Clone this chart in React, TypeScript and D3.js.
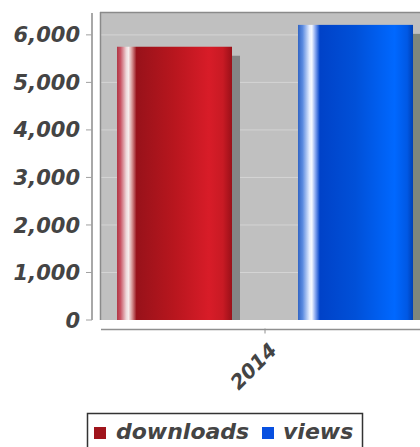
import React from "react";
import * as d3 from "d3";

const categories = ["2014"];
const seriesNames = ["downloads", "views"];
const downloads = [5750];
const views = [6210];
const yTicks = [0, 1000, 2000, 3000, 4000, 5000, 6000];
const yMax = 6460;

const W = 420;
const H = 447;
const FONT = "'DejaVu Sans', sans-serif";
const TEXT = "#444";

const gradRed = [
  [0, "#b03644"],
  [0.03, "#c85262"],
  [0.08, "#eed6d8"],
  [0.1, "#f6eeee"],
  [0.13, "#d89898"],
  [0.17, "#98121a"],
  [0.5, "#b8161e"],
  [0.8, "#d81c28"],
  [0.92, "#c81a24"],
  [1, "#9a1018"],
];
const gradBlue = [
  [0, "#3064c4"],
  [0.04, "#5a8ae0"],
  [0.1, "#e6eeff"],
  [0.12, "#f4f8ff"],
  [0.15, "#88a8f0"],
  [0.19, "#0042c8"],
  [0.5, "#0050d8"],
  [0.84, "#0068ff"],
  [0.95, "#0058e4"],
  [1, "#0040b4"],
];

export default function App() {
  const plotL = 100;
  const plotR = 430;
  const plotT = 13;
  const plotB = 320;

  const x0 = d3.scaleBand<string>().domain(categories).range([plotL, plotR]).paddingInner(0).paddingOuter(0.0574);
  const x1 = d3.scaleBand<string>().domain(seriesNames).range([0, x0.bandwidth()]).paddingInner(0.3646).paddingOuter(0);
  const y = d3.scaleLinear().domain([0, yMax]).range([plotB, plotT]);
  const fmt = d3.format(",");

  const values: Record<string, number[]> = { downloads, views };
  const grads: Record<string, (string | number)[][]> = { downloads: gradRed, views: gradBlue };
  const shadowCol: Record<string, string> = { downloads: "#848484", views: "#7e867c" };
  const legendCol: Record<string, string> = { downloads: "#a0141c", views: "#0850e0" };

  const axisY = 329.5;
  const yAxisX = 92;

  return (
    <div style={{ position: "absolute", left: 0, top: 0 }}>
      <svg width={W} height={H} style={{ display: "block", background: "#fff" }}>
        <defs>
          {seriesNames.map((s) => (
            <linearGradient key={s} id={`g-${s}`} x1="0" y1="0" x2="1" y2="0">
              {grads[s].map(([o, c], i) => (
                <stop key={i} offset={o as number} stopColor={c as string} />
              ))}
            </linearGradient>
          ))}
        </defs>

        {/* plot background */}
        <rect x={plotL} y={plotT} width={plotR - plotL} height={plotB - plotT} fill="#c0c0c0" />
        {/* gridlines */}
        {yTicks.filter((t) => t > 0).map((t) => (
          <line key={t} x1={plotL} x2={plotR} y1={y(t)} y2={y(t)} stroke="#d4d4d4" strokeWidth={1} />
        ))}

        {/* bars */}
        {categories.map((c, ci) =>
          seriesNames.map((s) => {
            const bx = (x0(c) as number) + (x1(s) as number);
            const bw = x1.bandwidth();
            const top = y(values[s][ci]);
            return (
              <g key={c + s}>
                <rect x={bx + 8} y={top + 9} width={bw} height={plotB - top - 9} fill={shadowCol[s]} />
                <rect x={bx} y={top} width={bw} height={plotB - top} fill={`url(#g-${s})`} />
              </g>
            );
          })
        )}

        {/* plot border */}
        <line x1={plotL} x2={plotR} y1={plotT - 0.5} y2={plotT - 0.5} stroke="#8a8a8a" strokeWidth={1.5} />
        <line x1={plotL + 0.5} x2={plotL + 0.5} y1={plotT - 1} y2={plotB} stroke="#8a8a8a" strokeWidth={1.5} />

        {/* y axis */}
        <line x1={yAxisX} x2={yAxisX} y1={plotT} y2={plotB} stroke="#a8a8a8" strokeWidth={2} />
        {yTicks.map((t) => (
          <g key={t}>
            <line x1={yAxisX - 6} x2={yAxisX} y1={y(t)} y2={y(t)} stroke="#a0a0a0" strokeWidth={1} />
            <text
              x={80}
              y={y(t)}
              dy="0.36em"
              textAnchor="end"
              fontFamily={FONT}
              fontSize={21}
              fontWeight="bold"
              fontStyle="italic"
              fill={TEXT}
            >
              {fmt(t)}
            </text>
          </g>
        ))}

        {/* x axis */}
        <line x1={plotL + 1} x2={plotR} y1={axisY} y2={axisY} stroke="#909090" strokeWidth={1.5} />
        {categories.map((c) => {
          const cx = (x0(c) as number) + x0.bandwidth() / 2;
          return (
            <g key={c}>
              <line x1={cx} x2={cx} y1={axisY - 1} y2={axisY + 4} stroke="#909090" strokeWidth={1} />
              <text
                transform={`translate(${cx + 13},${axisY + 22}) rotate(-45)`}
                textAnchor="end"
                fontFamily={FONT}
                fontSize={20}
                fontWeight="bold"
                fontStyle="italic"
                fill={TEXT}
              >
                {c}
              </text>
            </g>
          );
        })}

        {/* legend */}
        <rect x={87.5} y={413.5} width={275} height={50} fill="#fff" stroke="#333" strokeWidth={1.5} />
        {seriesNames.map((s, i) => {
          const lx = [94, 262][i];
          const tx = [116, 283][i];
          return (
            <g key={s}>
              <rect x={lx} y={427} width={12} height={12} fill={legendCol[s]} />
              <text
                x={tx}
                y={439}
                fontFamily={FONT}
                fontSize={22}
                fontWeight="bold"
                fontStyle="italic"
                fill={TEXT}
              >
                {s}
              </text>
            </g>
          );
        })}
      </svg>
    </div>
  );
}
